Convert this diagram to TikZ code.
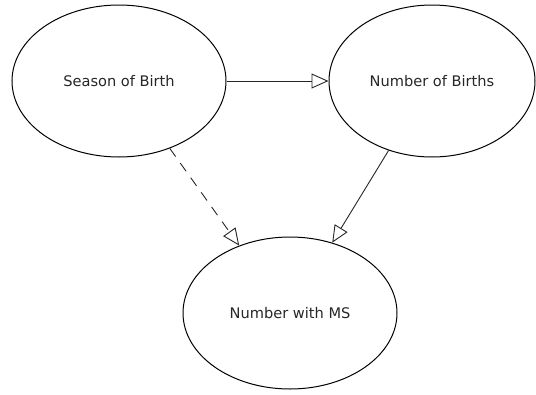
\documentclass[tikz,border=0pt]{standalone}
\usepackage{fontspec}
\setmainfont{DejaVu Sans}
\usetikzlibrary{shapes.geometric,arrows.meta}
\begin{document}
\begin{tikzpicture}[x=1pt,y=-1pt,
  var/.style={ellipse,draw=black,line width=1pt,inner sep=0pt,
    minimum width=214pt,minimum height=152pt,
    font=\fontsize{14.6}{17}\selectfont,text=black!85},
  link/.style={line width=0.9pt,draw=black!85,
    -{Triangle[open,length=17pt,width=15pt,line width=0.9pt]}}]
\useasboundingbox (0,0) rectangle (536,394);
\node[var] (sob) at (119,81) {Season of Birth};
\node[var,minimum width=206pt] (nob) at (432,81) {Number of Births};
\node[var] (ms) at (290,313) {Number with MS};
\draw[link] (sob.0) -- (nob.180);
\draw[link,dash pattern=on 10pt off 8pt] (sob.-53) -- (ms.127);
\draw[link] (nob.-122) -- (ms.59);
\end{tikzpicture}
\end{document}
